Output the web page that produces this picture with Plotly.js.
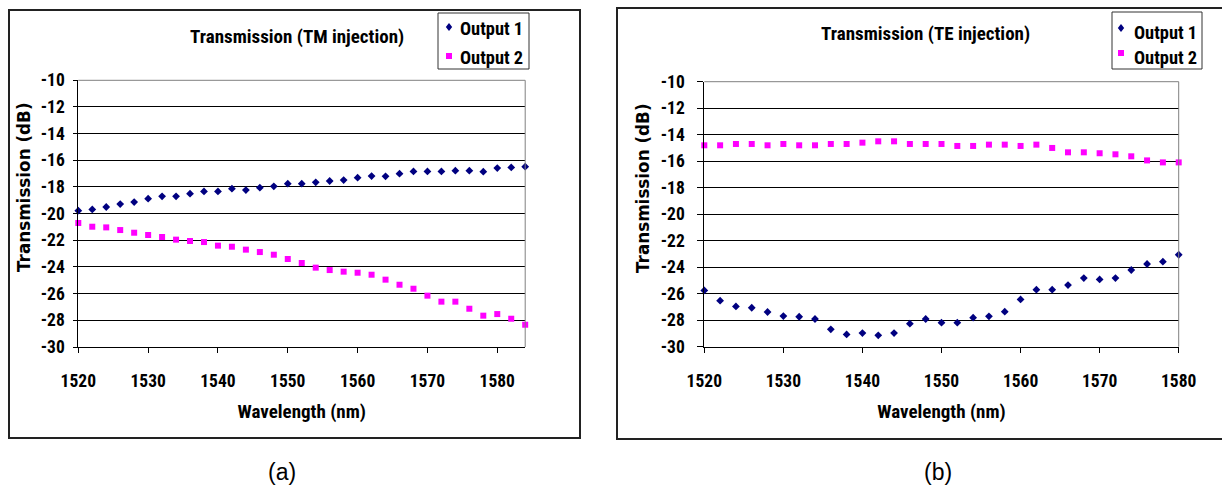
<!DOCTYPE html>
<html>
<head>
<meta charset="utf-8">
<script src="https://cdn.plot.ly/plotly-3.0.1.min.js"></script>
<style>html,body{margin:0;padding:0;background:#fff;}#chart{width:1222px;height:491px;}</style>
</head>
<body>
<div id="chart"></div>
<script>
// ---- data ----
const wavelengthTM = [1520,1522,1524,1526,1528,1530,1532,1534,1536,1538,1540,1542,1544,1546,1548,1550,
  1552,1554,1556,1558,1560,1562,1564,1566,1568,1570,1572,1574,1576,1578,1580,1582,1584];
const tmOutput1 = [-19.78,-19.68,-19.5,-19.28,-19.13,-18.88,-18.7,-18.7,-18.5,-18.33,-18.33,-18.13,-18.23,-18.05,-17.95,-17.75,
  -17.75,-17.65,-17.55,-17.48,-17.3,-17.18,-17.2,-17.0,-16.83,-16.83,-16.83,-16.78,-16.78,-16.85,-16.58,-16.53,-16.48];
const tmOutput2 = [-20.7,-20.98,-21.03,-21.23,-21.43,-21.6,-21.75,-21.95,-22.05,-22.13,-22.4,-22.48,-22.7,-22.88,-23.08,-23.4,
  -23.7,-24.05,-24.23,-24.35,-24.43,-24.58,-24.95,-25.33,-25.63,-26.15,-26.6,-26.6,-27.13,-27.65,-27.53,-27.88,-28.33];

const wavelengthTE = [1520,1522,1524,1526,1528,1530,1532,1534,1536,1538,1540,1542,1544,1546,
  1548,1550,1552,1554,1556,1558,1560,1562,1564,1566,1568,1570,1572,1574,1576,1578,1580];
const teOutput1 = [-25.75,-26.53,-26.96,-27.06,-27.38,-27.69,-27.74,-27.91,-28.69,-29.07,-28.97,-29.14,-28.97,-28.26,
  -27.91,-28.19,-28.19,-27.81,-27.71,-27.36,-26.43,-25.7,-25.7,-25.35,-24.82,-24.92,-24.82,-24.21,-23.76,-23.58,-23.06];
const teOutput2 = [-14.8,-14.8,-14.7,-14.7,-14.8,-14.7,-14.8,-14.8,-14.7,-14.7,-14.6,-14.5,-14.5,-14.7,
  -14.7,-14.7,-14.85,-14.85,-14.75,-14.75,-14.85,-14.75,-15.0,-15.33,-15.33,-15.4,-15.48,-15.63,-15.94,-16.09,-16.09];

const seriesNames = ["Output 1", "Output 2"];
const panelTitles = ["Transmission (TM injection)", "Transmission (TE injection)"];
const xTitle = "Wavelength (nm)";
const yTitle = "Transmission (dB)";
const panelLabels = ["(a)", "(b)"];
const yTickVals = [-10,-12,-14,-16,-18,-20,-22,-24,-26,-28,-30];
const yTickText = ["-10","-12","-14","-16","-18","-20","-22","-24","-26","-28","-30"];
const xTickVals = [1520,1530,1540,1550,1560,1570,1580];
const xTickText = ["1520","1530","1540","1550","1560","1570","1580"];

// ---- layout helpers (pixel -> paper) ----
const W = 1222, H = 491;
const px = x => x / W;
const py = y => 1 - y / H;
const COND = "Roboto Condensed, Liberation Sans, Arial, sans-serif";
const WIDE = "DejaVu Sans, Liberation Sans, sans-serif";
const PLAIN = "Liberation Sans, Arial, sans-serif";
const NAVY = "#000080", MAG = "#ff00ff";

const traces = [
  {x: wavelengthTM, y: tmOutput1, name: seriesNames[0], type: "scatter", mode: "markers", xaxis: "x", yaxis: "y",
   marker: {symbol: "diamond", size: 6, color: NAVY}, cliponaxis: false, showlegend: false},
  {x: wavelengthTM, y: tmOutput2, name: seriesNames[1], type: "scatter", mode: "markers", xaxis: "x", yaxis: "y",
   marker: {symbol: "square", size: 6, color: MAG}, cliponaxis: false, showlegend: false},
  {x: wavelengthTE, y: teOutput1, name: seriesNames[0], type: "scatter", mode: "markers", xaxis: "x2", yaxis: "y2",
   marker: {symbol: "diamond", size: 6, color: NAVY}, cliponaxis: false, showlegend: false},
  {x: wavelengthTE, y: teOutput2, name: seriesNames[1], type: "scatter", mode: "markers", xaxis: "x2", yaxis: "y2",
   marker: {symbol: "square", size: 6, color: MAG}, cliponaxis: false, showlegend: false}
];

const tickFont = {family: COND, size: 17.5, color: "#000", weight: "bold"};
function xAxis(domain, range, anchor) {
  return {domain, range, anchor, tickvals: xTickVals, ticktext: xTickText, ticks: "outside", ticklen: 5, tickcolor: "#000",
    showline: true, linecolor: "#000", linewidth: 1, showgrid: false, zeroline: false,
    tickfont: tickFont, ticklabelstandoff: 13, fixedrange: true,
    title: {text: xTitle, font: {family: COND, size: 19, color: "#000", weight: "bold"}, standoff: 14}};
}
function yAxis(domain, anchor, ticklen, standoff) {
  return {domain, range: [-30, -10], anchor, tickvals: yTickVals, ticktext: yTickText, ticks: "outside", ticklen, tickcolor: "#000",
    showline: true, linecolor: "#000", linewidth: 1, showgrid: true, gridcolor: "#000", gridwidth: 1,
    zeroline: false, tickfont: tickFont, ticklabelstandoff: standoff, fixedrange: true};
}

const L = {x0: 78.3, x1: 525.2, y0: 80.3, y1: 347};
const R = {x0: 704.3, x1: 1178.7, y0: 81.7, y1: 346.7};

function diamondPath(cx, cy, r) {
  return `M ${px(cx)} ${py(cy - r)} L ${px(cx + r * 0.8)} ${py(cy)} L ${px(cx)} ${py(cy + r)} L ${px(cx - r * 0.8)} ${py(cy)} Z`;
}

const shapes = [
  // outer frames
  {type: "rect", xref: "paper", yref: "paper", x0: px(9), x1: px(580), y0: py(10), y1: py(438),
   line: {color: "#222", width: 2}},
  {type: "rect", xref: "paper", yref: "paper", x0: px(617), x1: px(1240), y0: py(8), y1: py(439),
   line: {color: "#222", width: 2}},
  // plot-area top/right borders (gray)
  {type: "line", xref: "paper", yref: "paper", x0: px(L.x0), x1: px(L.x1), y0: py(L.y0), y1: py(L.y0), line: {color: "#808080", width: 1}},
  {type: "line", xref: "paper", yref: "paper", x0: px(L.x1), x1: px(L.x1), y0: py(L.y0), y1: py(L.y1), line: {color: "#808080", width: 1}},
  {type: "line", xref: "paper", yref: "paper", x0: px(R.x0), x1: px(R.x1), y0: py(R.y0), y1: py(R.y0), line: {color: "#808080", width: 1}},
  {type: "line", xref: "paper", yref: "paper", x0: px(R.x1), x1: px(R.x1), y0: py(R.y0), y1: py(R.y1), line: {color: "#808080", width: 1}},
  // legend boxes
  {type: "rect", xref: "paper", yref: "paper", x0: px(438), x1: px(529), y0: py(13), y1: py(69), line: {color: "#333", width: 1}},
  {type: "rect", xref: "paper", yref: "paper", x0: px(1112), x1: px(1202), y0: py(12), y1: py(69), line: {color: "#333", width: 1}},
  // legend symbols
  {type: "path", xref: "paper", yref: "paper", path: diamondPath(449, 27, 4), fillcolor: NAVY, line: {width: 0}},
  {type: "rect", xref: "paper", yref: "paper", x0: px(446), x1: px(452), y0: py(53), y1: py(59), fillcolor: MAG, line: {width: 0}},
  {type: "path", xref: "paper", yref: "paper", path: diamondPath(1121, 28, 4), fillcolor: NAVY, line: {width: 0}},
  {type: "rect", xref: "paper", yref: "paper", x0: px(1118), x1: px(1124), y0: py(50), y1: py(56), fillcolor: MAG, line: {width: 0}}
];

function txt(text, x, y, opts) {
  return Object.assign({text, xref: "paper", yref: "paper", x: px(x), y: py(y), showarrow: false,
    xanchor: "center", yanchor: "middle",
    font: {family: COND, size: 19, color: "#000", weight: "bold"}}, opts || {});
}
const legFont = {family: COND, size: 18.4, color: "#000", weight: "bold"};
const yTitleFont = {family: WIDE, size: 16.8, color: "#000", weight: "bold"};
const labelFont = {family: PLAIN, size: 23, color: "#000"};

const annotations = [
  txt(panelTitles[0], 297, 36),
  txt(panelTitles[1], 925, 34),
  txt(yTitle, 24, 187, {textangle: -90, font: yTitleFont}),
  txt(yTitle, 643, 188, {textangle: -90, font: yTitleFont}),
  txt(seriesNames[0], 458, 28, {xanchor: "left", font: legFont}),
  txt(seriesNames[1], 458, 57.5, {xanchor: "left", font: legFont}),
  txt(seriesNames[0], 1132, 32, {xanchor: "left", font: legFont}),
  txt(seriesNames[1], 1132, 57.5, {xanchor: "left", font: legFont}),
  txt(panelLabels[0], 282, 472, {font: labelFont}),
  txt(panelLabels[1], 937.5, 472, {font: labelFont})
];

const layout = {
  width: W, height: H,
  margin: {l: 0, r: 0, t: 0, b: 0},
  paper_bgcolor: "#fff", plot_bgcolor: "#fff",
  showlegend: false,
  xaxis: xAxis([px(L.x0), px(L.x1)], [1520, 1584], "y"),
  yaxis: yAxis([py(L.y1), py(L.y0)], "x", 4, 5),
  xaxis2: xAxis([px(R.x0), px(R.x1)], [1520, 1580], "y2"),
  yaxis2: yAxis([py(R.y1), py(R.y0)], "x2", 6, 9),
  shapes, annotations
};

Plotly.newPlot("chart", traces, layout, {displayModeBar: false, staticPlot: true});
</script>
</body>
</html>
